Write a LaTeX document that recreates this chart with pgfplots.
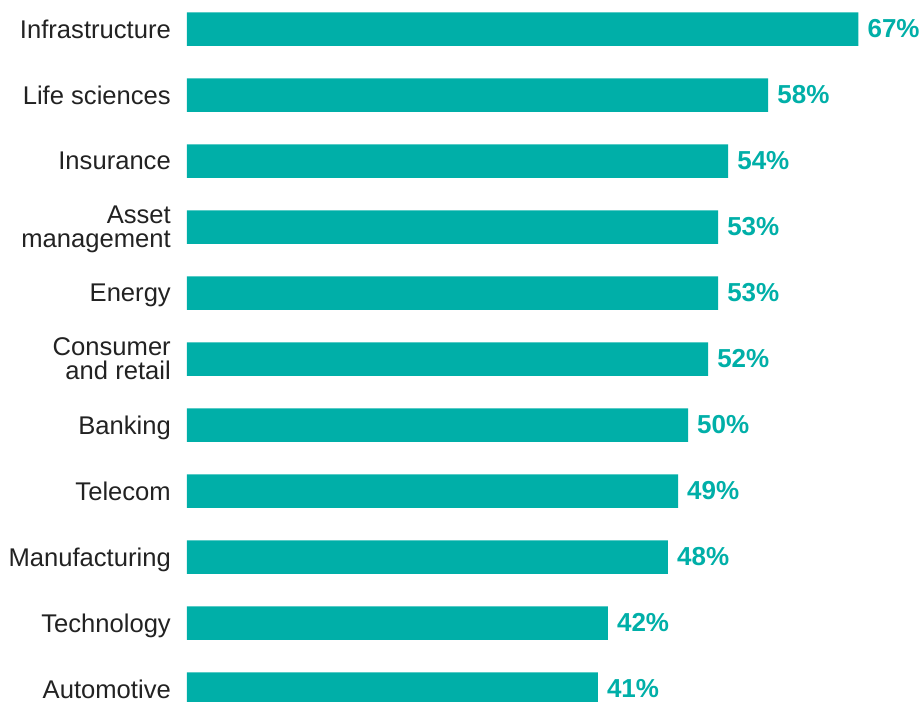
\documentclass[border=0pt]{standalone}
\usepackage{fontspec}
\setmainfont{Liberation Sans}
\usepackage{pgfplots}
\pgfplotsset{compat=1.18}
\definecolor{barteal}{HTML}{00AFA8}
\definecolor{labelgray}{HTML}{222222}

\begin{document}
\begin{tikzpicture}
  \begin{axis}[
    xbar,
    scale only axis,
    width=735pt, height=702pt,
    xmin=0, xmax=73.35,
    ymin=-0.4394, ymax=10.197,
    y dir=reverse,
    enlargelimits=false,
    bar width=33.5pt,
    axis line style={draw=none},
    major tick length=0pt,
    xtick=\empty,
    ytick={0,...,10},
    yticklabels={Infrastructure, Life sciences, Insurance, {Asset\\management},
      Energy, {Consumer\\and retail}, Banking, Telecom, Manufacturing,
      Technology, Automotive},
    yticklabel style={font=\fontsize{25.6}{24}\selectfont, align=right,
      inner sep=0pt, xshift=-16pt, text depth=0pt, text=labelgray},
    nodes near coords={\pgfmathprintnumber{\pgfplotspointmeta}\%},
    nodes near coords style={font=\fontsize{26}{26}\selectfont\bfseries,
      text=barteal, anchor=west, inner sep=0pt, xshift=9pt},
    /pgf/number format/assume math mode=true,
    ]
    \addplot[fill=barteal, draw=none]
      coordinates {(67,0) (58,1) (54,2) (53,3) (53,4) (52,5)
                   (50,6) (49,7) (48,8) (42,9) (41,10)};
  \end{axis}
  \pgfresetboundingbox
  \path (current axis.south west) ++(-187pt,0) rectangle (current axis.north east);
\end{tikzpicture}
\end{document}
